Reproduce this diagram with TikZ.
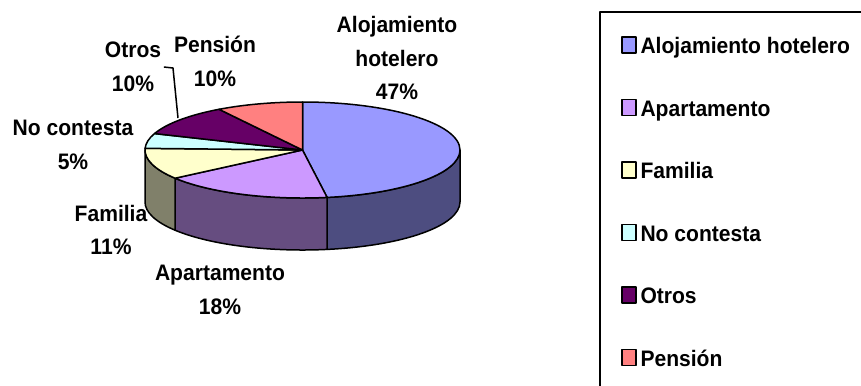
\documentclass[tikz,border=0pt]{standalone}
\usepackage{fontspec}
\setmainfont{Liberation Sans}[FakeStretch=0.94]
\usepackage{xcolor}
\usepackage{tikz}
\usetikzlibrary{positioning}

\definecolor{hotel}{HTML}{9999FF}
\definecolor{hotelside}{HTML}{4D4D80}
\definecolor{apart}{HTML}{CC99FF}
\definecolor{apartside}{HTML}{664D80}
\definecolor{famil}{HTML}{FFFFCC}
\definecolor{familside}{HTML}{80806A}
\definecolor{nocont}{HTML}{CCFFFF}
\definecolor{otros}{HTML}{660066}
\definecolor{pension}{HTML}{FF8080}

\begin{document}
\begin{tikzpicture}[x=1bp,y=-1bp,line width=1.5bp,line join=round,
  ell/.style={x radius=157.5,y radius=48},
  lbl/.style={font=\bfseries\fontsize{22.5}{34}\selectfont,align=center,inner sep=2bp},
  legsq/.style={draw,minimum width=14bp,minimum height=16bp,inner sep=0pt},
  legtxt/.style={font=\bfseries\fontsize{22.5}{25}\selectfont,inner sep=0pt,anchor=base west},
  node distance=45bp]
\clip (0,0) rectangle (861,385);
\coordinate (C) at (302.5,150);
% side walls
\filldraw[fill=hotelside] ([shift={(0:157.5 and 48)}]C) arc[ell,start angle=0,end angle=81] -- ++(0,52) arc[ell,start angle=81,end angle=0] -- cycle;
\filldraw[fill=apartside] ([shift={(81:157.5 and 48)}]C) arc[ell,start angle=81,end angle=144] -- ++(0,52) arc[ell,start angle=144,end angle=81] -- cycle;
\filldraw[fill=familside] ([shift={(144:157.5 and 48)}]C) arc[ell,start angle=144,end angle=180] -- ++(0,52) arc[ell,start angle=180,end angle=144] -- cycle;
% top
\filldraw[fill=hotel]   (C) -- ([shift={(-90:157.5 and 48)}]C) arc[ell,start angle=-90,end angle=81] -- cycle;
\filldraw[fill=apart]   (C) -- ([shift={(81:157.5 and 48)}]C) arc[ell,start angle=81,end angle=144] -- cycle;
\filldraw[fill=famil]   (C) -- ([shift={(144:157.5 and 48)}]C) arc[ell,start angle=144,end angle=182] -- cycle;
\filldraw[fill=nocont]  (C) -- ([shift={(182:157.5 and 48)}]C) arc[ell,start angle=182,end angle=200] -- cycle;
\filldraw[fill=otros]   (C) -- ([shift={(200:157.5 and 48)}]C) arc[ell,start angle=200,end angle=238] -- cycle;
\filldraw[fill=pension] (C) -- ([shift={(238:157.5 and 48)}]C) arc[ell,start angle=238,end angle=270] -- cycle;
% labels
\node[lbl] (hotl) at (397,58)  {Alojamiento\\hotelero\\47\%};
\node[lbl] (penl) at (215,61)  {Pensión\\10\%};
\node[lbl] (otl)  at (133,67)  {Otros\\10\%};
\node[lbl] (nocl) at (73,145)  {No contesta\\5\%};
\node[lbl] (faml) at (111,230) {Familia\\11\%};
\node[lbl] (apl)  at (220,290) {Apartamento\\18\%};
\coordinate (otknee) at (173,68);
\coordinate (otend)  at (178,118);
\draw (otl.east) -- (otknee) -- (otend);
% legend
\draw (600,12) rectangle (880,400);
\node[legsq,fill=hotel]   (sq1) at (629,45) {};
\node[legsq,fill=apart]   (sq2) [below=of sq1] {};
\node[legsq,fill=famil]   (sq3) [below=of sq2] {};
\node[legsq,fill=nocont]  (sq4) [below=of sq3] {};
\node[legsq,fill=otros]   (sq5) [below=of sq4] {};
\node[legsq,fill=pension] (sq6) [below=of sq5] {};
\node[legtxt] (t1) at ([xshift=3bp]sq1.south east) {Alojamiento hotelero};
\node[legtxt] (t2) at ([xshift=3bp]sq2.south east) {Apartamento};
\node[legtxt] (t3) at ([xshift=3bp]sq3.south east) {Familia};
\node[legtxt] (t4) at ([xshift=3bp]sq4.south east) {No contesta};
\node[legtxt] (t5) at ([xshift=3bp]sq5.south east) {Otros};
\node[legtxt] (t6) at ([xshift=3bp]sq6.south east) {Pensión};
\end{tikzpicture}
\end{document}
